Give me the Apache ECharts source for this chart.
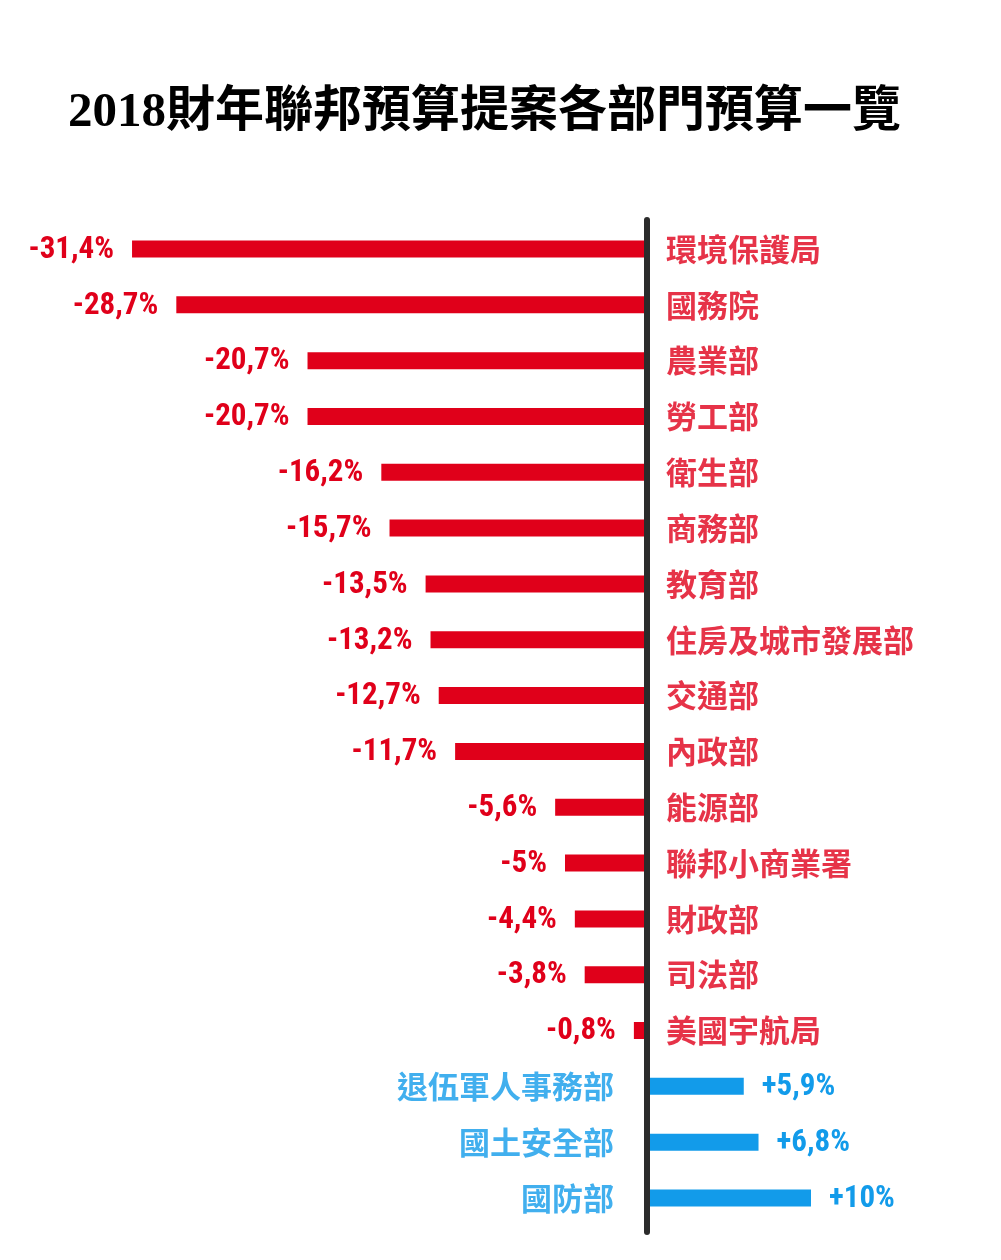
<!DOCTYPE html>
<html>
<head>
<meta charset="utf-8">
<script src="https://cdn.jsdelivr.net/npm/echarts@6/dist/echarts.min.js"></script>
<style>html,body{margin:0;padding:0;background:#fff}#c{width:1001px;height:1260px}</style>
</head>
<body>
<div id="c"></div>
<script>
var titleText = '2018財年聯邦預算提案各部門預算一覽';
var departments = ['環境保護局','國務院','農業部','勞工部','衛生部','商務部','教育部','住房及城市發展部','交通部','內政部','能源部','聯邦小商業署','財政部','司法部','美國宇航局','退伍軍人事務部','國土安全部','國防部'];
var changes = [-31.4,-28.7,-20.7,-20.7,-16.2,-15.7,-13.5,-13.2,-12.7,-11.7,-5.6,-5,-4.4,-3.8,-0.8,5.9,6.8,10];
var valueLabels = ['-31,4%','-28,7%','-20,7%','-20,7%','-16,2%','-15,7%','-13,5%','-13,2%','-12,7%','-11,7%','-5,6%','-5%','-4,4%','-3,8%','-0,8%','+5,9%','+6,8%','+10%'];

var RED = '#e0001a', BLUE = '#129bea';
var numFont = "'Liberation Sans Narrow', 'Roboto Condensed', Roboto, sans-serif";
var cjkFont = "'Noto Sans CJK TC', 'Noto Sans CJK SC', sans-serif";

var chart = echarts.init(document.getElementById('c'));
var barData = changes.map(function (v, i) {
  var neg = v < 0;
  return {
    value: v,
    itemStyle: { color: neg ? RED : BLUE },
    label: {
      show: true,
      position: neg ? 'left' : 'right',
      distance: 18,
      formatter: valueLabels[i],
      color: neg ? RED : BLUE,
      fontFamily: numFont, fontWeight: 'bold', fontSize: 31,
      offset: [0, 1]
    }
  };
});
var nameData = departments.map(function (d, i) {
  var neg = changes[i] < 0;
  return {
    value: [0, d],
    label: {
      show: true,
      position: neg ? 'right' : 'left',
      distance: neg ? 19 : 33,
      formatter: d,
      color: neg ? RED : BLUE,
      fontFamily: cjkFont, fontWeight: 'bold', fontSize: 31
    }
  };
});

chart.setOption({
  animation: false,
  backgroundColor: '#ffffff',
  title: {
    text: titleText, left: 63, top: 84,
    textStyle: { fontFamily: "'Liberation Serif', 'Noto Sans CJK TC'", fontWeight: 'bold', fontSize: 49, color: '#000' }
  },
  grid: [
    { left: 73, right: 108, top: 221.1, bottom: 34.1 },
    { left: 73, right: 108, top: 220, bottom: 28 }
  ],
  xAxis: [
    { type: 'value', gridIndex: 0, min: -35, max: 15, show: false },
    { type: 'value', gridIndex: 1, min: -35, max: 15, axisLabel: { show: false }, axisTick: { show: false }, splitLine: { show: false }, axisLine: { show: false } }
  ],
  yAxis: [
    { type: 'category', gridIndex: 0, data: departments, inverse: true, show: false },
    { type: 'value', gridIndex: 1, min: 0, max: 1, z: 10,
      axisLine: { show: true, onZero: true, lineStyle: { color: '#2b2b2b', width: 6 } },
      axisLabel: { show: false }, axisTick: { show: false }, splitLine: { show: false } }
  ],
  series: [
    { type: 'bar', xAxisIndex: 0, yAxisIndex: 0, data: barData, barWidth: 17 },
    { type: 'scatter', xAxisIndex: 0, yAxisIndex: 0, data: nameData, symbolSize: 0, silent: true }
  ]
});
</script>
</body>
</html>
